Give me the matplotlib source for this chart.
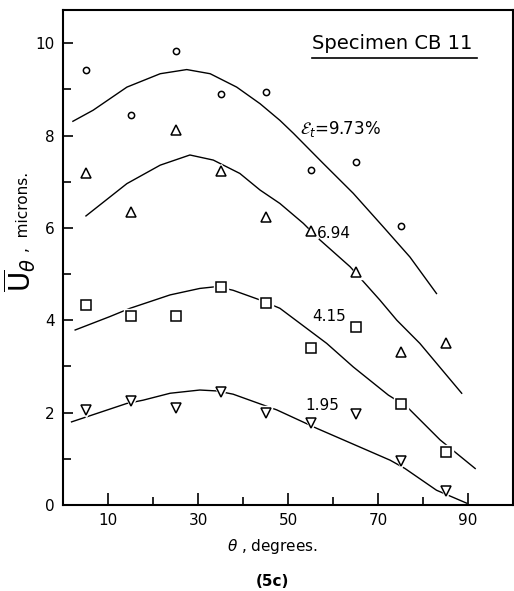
import numpy as np
import matplotlib
matplotlib.use("Agg")
import matplotlib.pyplot as plt
from matplotlib.ticker import MultipleLocator, FixedLocator

# measured points (theta in degrees, mean displacement in microns)
theta = [5, 15, 25, 35, 45, 55, 65, 75, 85]
u_973 = [9.42, 8.44, 9.83, 8.90, 8.95, 7.25, 7.42, 6.04]
u_694 = [7.19, 6.34, 8.12, 7.24, 6.24, 5.94, 5.05, 3.32, 3.50]
u_415 = [4.33, 4.09, 4.09, 4.73, 4.37, 3.39, 3.86, 2.18, 1.15]
u_195 = [2.06, 2.26, 2.09, 2.45, 2.00, 1.78, 1.97, 0.95, 0.31]

# hand drawn curves
c973_x = [2.2, 6.7, 14.2, 21.6, 27.5, 32.7, 38.6, 43.8, 48.2, 51.2, 57.8, 64.5, 71.2, 77.1, 83.0]
c973_y = [8.31, 8.55, 9.05, 9.34, 9.43, 9.34, 9.05, 8.69, 8.33, 8.05, 7.40, 6.75, 6.02, 5.37, 4.58]
c694_x = [5.1, 14.2, 21.6, 28.2, 33.4, 39.3, 43.8, 48.2, 53.4, 57.1, 63.8, 70.4, 74.2, 79.3, 88.6]
c694_y = [6.26, 6.96, 7.36, 7.58, 7.47, 7.18, 6.82, 6.53, 6.10, 5.74, 5.16, 4.44, 4.00, 3.50, 2.42]
c415_x = [2.7, 10.4, 14.9, 23.8, 30.4, 34.2, 37.8, 43.8, 48.2, 58.6, 64.5, 72.3, 76.4, 83.8, 91.6]
c415_y = [3.79, 4.08, 4.26, 4.55, 4.69, 4.73, 4.65, 4.44, 4.26, 3.50, 2.99, 2.38, 2.13, 1.41, 0.79]
c195_x = [1.9, 14.2, 17.8, 23.8, 30.4, 34.2, 37.8, 47.5, 56.4, 72.7, 76.0, 83.0, 89.7]
c195_y = [1.80, 2.20, 2.27, 2.42, 2.49, 2.47, 2.40, 2.06, 1.66, 0.97, 0.79, 0.32, 0.04]

fig = plt.figure(figsize=(5.14, 5.91), dpi=100)
ax = fig.add_axes([63/514, 86/591, 450/514, 495/591])

for cx, cy in [(c973_x, c973_y), (c694_x, c694_y), (c415_x, c415_y), (c195_x, c195_y)]:
    ax.plot(cx, cy, color="black", lw=1.0, zorder=2)

def markers(x, y, m, ms):
    # white halo first so the curve breaks around the symbol
    ax.plot(x, y, ls="none", marker=m, ms=ms + 4, mfc="white", mec="white", zorder=3)
    ax.plot(x, y, ls="none", marker=m, ms=ms, mfc="white", mec="black", mew=1.1, zorder=4)

markers(theta[:len(u_973)], u_973, "o", 4.5)
markers(theta, u_694, "^", 6.5)
markers(theta, u_415, "s", 6.5)
markers(theta, u_195, "v", 6.5)

ax.set_xlim(0, 100)
ax.set_ylim(0, 10.72)
ax.xaxis.set_major_locator(FixedLocator([10, 30, 50, 70, 90]))
ax.xaxis.set_minor_locator(FixedLocator([20, 40, 60, 80]))
ax.yaxis.set_major_locator(MultipleLocator(2))
ax.yaxis.set_minor_locator(MultipleLocator(1))
ax.tick_params(which="both", direction="in", width=1.2, labelsize=11, pad=6)
ax.tick_params(axis="x", which="major", length=8.5)
ax.tick_params(axis="x", which="minor", length=6)
ax.tick_params(axis="y", which="major", length=7)
ax.tick_params(axis="y", which="minor", length=5.5)
for s in ax.spines.values():
    s.set_linewidth(1.5)

ax.text(55.3, 10.0, "Specimen CB 11", fontsize=14, va="center", ha="left")
ax.plot([55.3, 91.9], [9.69, 9.69], color="black", lw=1.2)
ax.text(52.7, 8.15, r"$\mathcal{E}_t$" + "=9.73%", fontsize=12, va="center", ha="left")
ax.text(56.4, 5.87, "6.94", fontsize=11, va="center", ha="left")
ax.text(55.3, 4.08, "4.15", fontsize=11, va="center", ha="left")
ax.text(53.8, 2.15, "1.95", fontsize=11, va="center", ha="left")

fig.text(20/514, 1 - 275/591, r"$\overline{\mathrm{U}}_{\theta}$", rotation=90,
         fontsize=20, ha="center", va="center")
fig.text(24/514, 1 - 212/591, ",  microns.", rotation=90, fontsize=11,
         ha="center", va="center")
fig.text(272/514, 1 - 546/591, r"$\theta$ , degrees.", fontsize=11,
         ha="center", va="center")
fig.text(272/514, 1 - 582/591, "(5c)", fontsize=11, fontweight="bold",
         ha="center", va="center")

plt.savefig("out.png", dpi=100)
plt.close()
